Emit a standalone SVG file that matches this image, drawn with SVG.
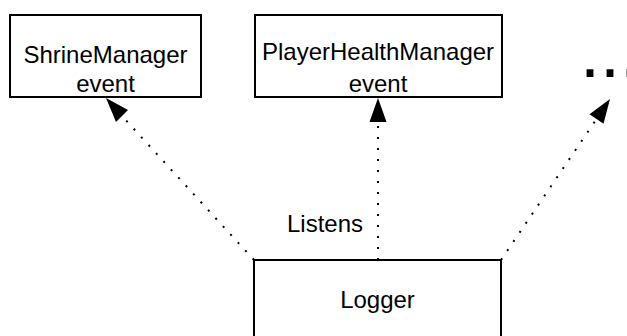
<svg xmlns="http://www.w3.org/2000/svg" width="627" height="336" viewBox="0 0 627 336">
  <style>
    .box { fill: #ffffff; stroke: #000000; stroke-width: 2; }
    .lbl { font-family: "Liberation Sans", Arial, sans-serif; font-size: 24px; fill: #000000; text-anchor: middle; }
    .dot { fill: none; stroke: #000000; stroke-width: 2; stroke-dasharray: 2 9; }
    .head { fill: #000000; stroke: none; }
  </style>
  <rect width="627" height="336" fill="#ffffff"/>
  <g id="connectors">
    <path class="dot" d="M254 260 L122 116"/>
    <polygon class="head" points="106,98 128,110 116,122"/>
    <path class="dot" d="M378 260 L378 122"/>
    <polygon class="head" points="378,98 386.5,122 369.5,122"/>
    <path class="dot" d="M501 260 L596.5 119"/>
    <polygon class="head" points="610,99 603.5,123.8 589.5,114.2"/>
    <text class="lbl" x="287" y="232" style="text-anchor:start">Listens</text>
  </g>
  <g id="shrine">
    <rect class="box" x="10" y="15" width="191" height="82"/>
    <text class="lbl" x="105.5" y="62.5">ShrineManager</text>
    <text class="lbl" x="105.5" y="91.5">event</text>
  </g>
  <g id="playerhealth">
    <rect class="box" x="255" y="15" width="247" height="82"/>
    <text class="lbl" x="378" y="59.5">PlayerHealthManager</text>
    <text class="lbl" x="378" y="91.5">event</text>
  </g>
  <g id="more">
    <text x="580" y="77" style="font-family:'Liberation Sans', Arial, sans-serif; font-size:72px; fill:#000000">...</text>
  </g>
  <g id="logger">
    <rect class="box" x="254" y="260" width="247" height="90"/>
    <text class="lbl" x="377.5" y="308">Logger</text>
  </g>
</svg>
